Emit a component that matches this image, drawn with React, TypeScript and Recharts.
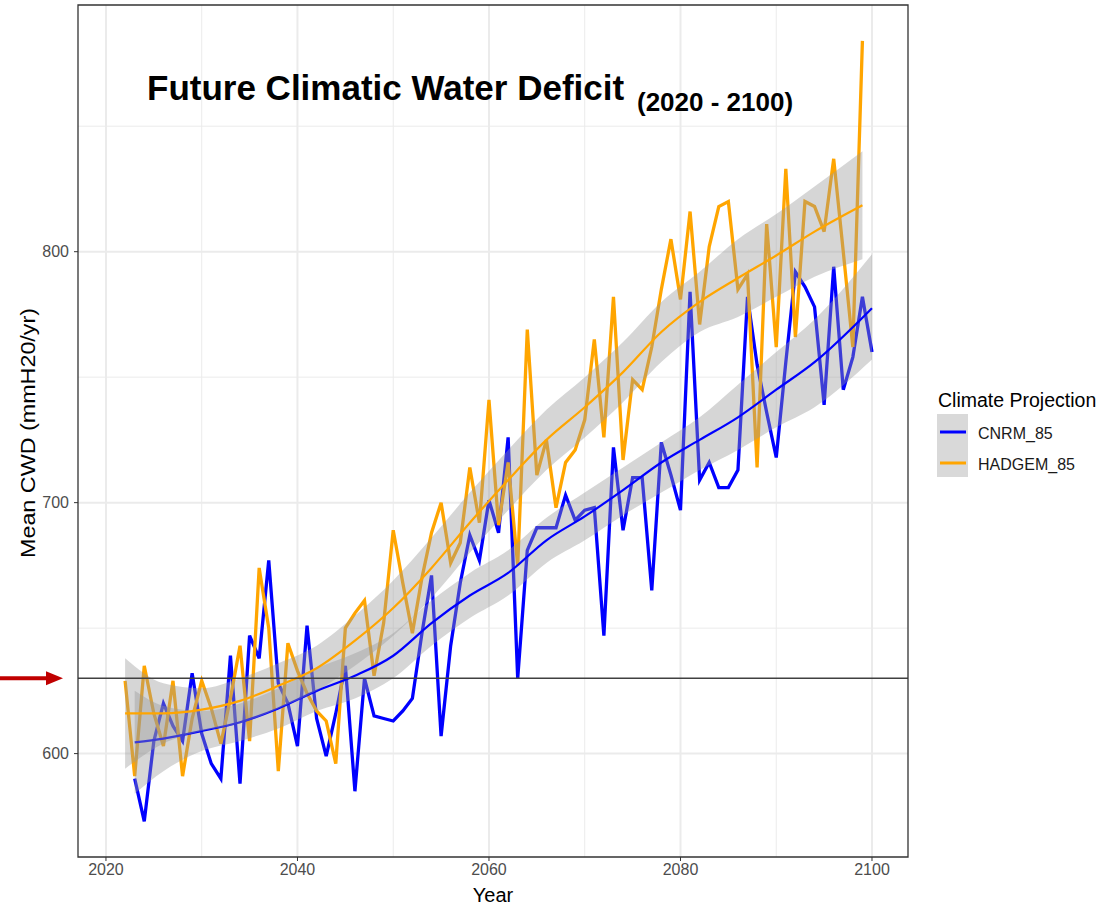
import * as React from 'react';
import { Area, ComposedChart, Line, ReferenceArea, ReferenceLine, XAxis, YAxis } from 'recharts';

const FONT = '"Liberation Sans", Arial, Helvetica, sans-serif';

// yearly mean CWD, HADGEM_85 starts 2022, CNRM_85 starts 2023
const hadgemStart = 2022;
const hadgemValues = [
  629, 591, 635, 616, 603, 629, 591, 614, 629, 618,
  604, 622, 643, 605, 674, 650, 593, 644, 633, 624,
  617, 613, 596, 650, 656, 661, 631, 652, 689, 668,
  648, 670, 688, 700, 676, 684, 714, 692, 741, 691,
  716, 675, 769, 711, 725, 698, 716, 721, 733, 765,
  726, 782, 717, 749, 745, 762, 785, 805, 781, 816,
  771, 802, 818, 820, 785, 791, 714, 811, 762, 833,
  766, 820, 818, 808, 837, 800, 762, 884,
];

const cnrmStart = 2023;
const cnrmValues = [
  590, 573, 605, 620, 611, 605, 632, 608, 596, 590,
  639, 588, 647, 638, 677, 628, 620, 603, 651, 614,
  599, 616, 635, 585, 630, 615, 614, 613, 617, 622,
  648, 671, 607, 643, 668, 687, 677, 701, 688, 726,
  630, 681, 690, 690, 690, 703, 693, 697, 698, 647,
  722, 689, 710, 710, 665, 724, 711, 697, 784, 709,
  716, 706, 706, 713, 782, 755, 736, 718, 756, 792,
  786, 778, 739, 794, 745, 758, 782, 760,
];

// loess fits and their confidence bands
const hadgemFitYears = [2022, 2026, 2030, 2034, 2038, 2042, 2046, 2050, 2054, 2058, 2062, 2066, 2070, 2074, 2078, 2082, 2086, 2090, 2094, 2099];
const hadgemFit = [616, 616, 617.5, 621, 627, 634, 645, 658, 674, 692, 709, 725, 738, 752, 768, 780, 789.5, 798.5, 808, 818.5];
const hadgemLow = [594, 604, 609, 612, 618, 625, 635, 647, 662, 680, 697, 713, 726, 740, 756, 768, 774, 782, 790, 797];
const hadgemHigh = [638, 628, 626, 630, 636, 643, 655, 669, 686, 704, 721, 737, 750, 764, 780, 792, 805, 815, 826, 840];

const cnrmFitYears = [2023, 2026, 2030, 2034, 2038, 2042, 2046, 2050, 2054, 2058, 2062, 2066, 2070, 2074, 2078, 2082, 2086, 2090, 2094, 2100];
const cnrmFit = [604.5, 606, 609, 612.5, 618, 625, 631, 639, 652, 663, 672, 685, 694.5, 705, 716, 725, 734, 745, 756, 777.5];
const cnrmLow = [584, 593, 601, 605, 610, 617, 622, 630, 643, 654, 663, 676, 685, 695, 704, 713, 721, 730, 738, 757];
const cnrmHigh = [625, 619, 617, 620, 626, 634, 640, 648, 661, 672, 681, 694, 704, 714, 724, 734, 747, 760, 773, 799];

const xTicks = [2020, 2040, 2060, 2080, 2100];
const xMinor = [2030, 2050, 2070, 2090];
const yTicks = [600, 700, 800];
const yMinor = [650, 750, 850];
const threshold = 630;

const xDomain: [number, number] = [2017.08, 2103.76];
const yDomain: [number, number] = [558.8, 898.3];

const BLUE = '#0000ff';
const ORANGE = '#ffa500';

const hadgemRows = hadgemValues.map((value, i) => ({ year: hadgemStart + i, value }));
const cnrmRows = cnrmValues.map((value, i) => ({ year: cnrmStart + i, value }));
const hadgemFitRows = hadgemFitYears.map((year, i) => ({ year, fit: hadgemFit[i], band: [hadgemLow[i], hadgemHigh[i]] }));
const cnrmFitRows = cnrmFitYears.map((year, i) => ({ year, fit: cnrmFit[i], band: [cnrmLow[i], cnrmHigh[i]] }));

function ThresholdArrow(props: any) {
  const vb = props.viewBox;
  if (!vb) return null;
  const { x, y } = vb;
  return (
    <g>
      <line x1={x - 78} y1={y} x2={x - 28} y2={y} stroke="#c00000" strokeWidth={4} />
      <polygon points={`${x - 32},${y - 7} ${x - 15},${y} ${x - 32},${y + 7}`} fill="#c00000" />
    </g>
  );
}

export default function App() {
  return (
    <div style={{ position: 'absolute', left: 0, top: 0, width: 1118, height: 908, background: '#fff', fontFamily: FONT }}>
      <ComposedChart
        width={1118}
        height={908}
        margin={{ top: 5, right: 210, bottom: 21, left: 18 }}
        style={{ fontFamily: FONT }}
      >
        <XAxis
          type="number"
          dataKey="year"
          domain={xDomain}
          allowDataOverflow
          ticks={xTicks}
          height={30}
          axisLine={false}
          tickSize={4}
          tickMargin={3}
          tickLine={{ stroke: '#333333' }}
          tick={{ fill: '#4d4d4d', fontSize: 16 }}
        />
        <YAxis
          type="number"
          domain={yDomain}
          allowDataOverflow
          ticks={yTicks}
          width={60}
          axisLine={false}
          tickSize={4}
          tickMargin={5}
          tickLine={{ stroke: '#333333' }}
          tick={{ fill: '#4d4d4d', fontSize: 16 }}
        />

        {xMinor.map((v) => (
          <ReferenceLine key={`xm${v}`} x={v} stroke="#ebebeb" strokeWidth={1} zIndex={-90} />
        ))}
        {yMinor.map((v) => (
          <ReferenceLine key={`ym${v}`} y={v} stroke="#ebebeb" strokeWidth={1} zIndex={-90} />
        ))}
        {xTicks.map((v) => (
          <ReferenceLine key={`xM${v}`} x={v} stroke="#ebebeb" strokeWidth={2} zIndex={-80} />
        ))}
        {yTicks.map((v) => (
          <ReferenceLine key={`yM${v}`} y={v} stroke="#ebebeb" strokeWidth={2} zIndex={-80} />
        ))}

        <Line data={cnrmRows} dataKey="value" type="linear" stroke={BLUE} strokeWidth={3.3}
          dot={false} activeDot={false} isAnimationActive={false} zIndex={400} />
        <Line data={hadgemRows} dataKey="value" type="linear" stroke={ORANGE} strokeWidth={3.3}
          dot={false} activeDot={false} isAnimationActive={false} zIndex={401} />

        <Area data={cnrmFitRows} dataKey="band" type="monotone" stroke="none" fill="#999999" fillOpacity={0.4}
          isAnimationActive={false} zIndex={410} />
        <Line data={cnrmFitRows} dataKey="fit" type="monotone" stroke={BLUE} strokeWidth={2.2}
          dot={false} activeDot={false} isAnimationActive={false} zIndex={411} />
        <Area data={hadgemFitRows} dataKey="band" type="monotone" stroke="none" fill="#999999" fillOpacity={0.4}
          isAnimationActive={false} zIndex={412} />
        <Line data={hadgemFitRows} dataKey="fit" type="monotone" stroke={ORANGE} strokeWidth={2.2}
          dot={false} activeDot={false} isAnimationActive={false} zIndex={413} />

        <ReferenceLine y={threshold} stroke="#404040" strokeWidth={1.6} zIndex={420}
          label={(p: any) => <ThresholdArrow {...p} />} />

        <ReferenceArea x1={xDomain[0]} x2={xDomain[1]} y1={yDomain[0]} y2={yDomain[1]}
          fill="none" stroke="#333333" strokeWidth={1.3} ifOverflow="visible" zIndex={430} />
      </ComposedChart>

      <svg width={1118} height={908} style={{ position: 'absolute', left: 0, top: 0, pointerEvents: 'none' }}>
        <g fontFamily={FONT}>
          <text x={147} y={100} fontSize={35} fontWeight="bold" fill="#000">Future Climatic Water Deficit</text>
          <text x={637} y={111} fontSize={26} fontWeight="bold" fill="#000">(2020 - 2100)</text>

          <text x={493} y={902} textAnchor="middle" fontSize={20} fill="#000">Year</text>
          <text transform="translate(35,433) rotate(-90)" textAnchor="middle" fontSize={20} fill="#000"
            textLength={250} lengthAdjust="spacingAndGlyphs">
            Mean CWD (mmH20/yr)
          </text>

          <text x={938} y={407} fontSize={19.5} fill="#000">Climate Projection</text>
          <rect x={937} y={414} width={31} height={63} fill="#d9d9d9" />
          <line x1={940} y1={432} x2={966} y2={432} stroke={BLUE} strokeWidth={3} />
          <line x1={940} y1={463} x2={966} y2={463} stroke={ORANGE} strokeWidth={3} />
          <text x={978} y={439} fontSize={16} fill="#1a1a1a">CNRM_85</text>
          <text x={978} y={470} fontSize={16} fill="#1a1a1a">HADGEM_85</text>
        </g>
      </svg>
    </div>
  );
}
